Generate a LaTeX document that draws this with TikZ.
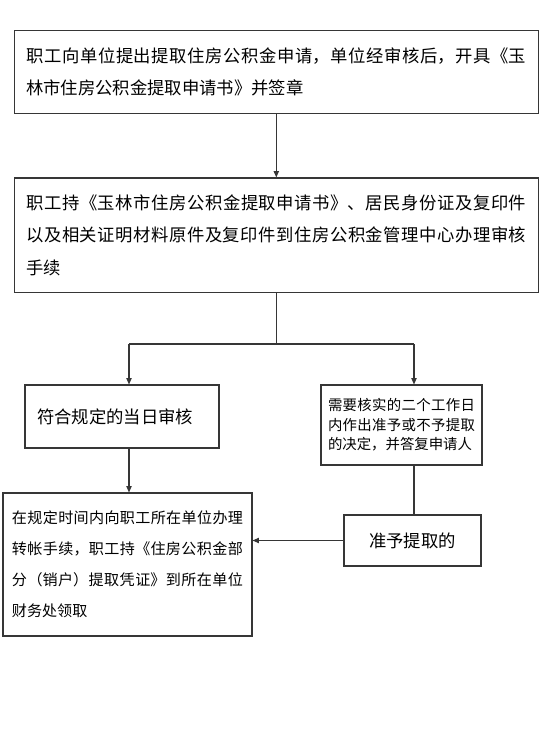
\documentclass[tikz,border=0pt]{standalone}
\usepackage{fontspec}
\setmainfont{Noto Sans CJK SC}
\usetikzlibrary{arrows.meta}
\XeTeXlinebreaklocale "zh"
\XeTeXlinebreakskip = 0pt plus 2pt
\definecolor{framegray}{HTML}{363636}
\tikzset{
  stepbox/.style = {draw=framegray, line width=0.8pt, inner ysep=0pt, align=justify},
  flowln/.style  = {framegray, line width=0.8pt},
  flowarr/.style = {-{Triangle[length=4.8pt,width=4pt]}, framegray, line width=0.8pt}
}

\begin{document}
\begin{tikzpicture}[x=0.75pt,y=-0.75pt]
  \useasboundingbox (0,0) rectangle (550,731);
  % top row: application and submission
  \node[stepbox,text width=375pt,inner xsep=8.85pt,minimum height=61.9pt,
        font=\fontsize{13}{23.5}\selectfont] (apply) at (276.3,71.8)
    {职工向单位提出提取住房公积金申请，单位经审核后，开具《玉\linebreak 林市住房公积金提取申请书》并签章};
  \node[stepbox,text width=375pt,inner xsep=8.85pt,minimum height=86pt,
        font=\fontsize{13}{24.4}\selectfont] (submit) at (276.3,235.3)
    {职工持《玉林市住房公积金提取申请书》、居民身份证及复印件\linebreak 以及相关证明材料原件及复印件到住房公积金管理中心办理审核\linebreak 手续};
  % two branches
  \node[stepbox,align=left,text width=127.5pt,inner xsep=9pt,minimum height=47.25pt,
        font=\fontsize{13}{16}\selectfont] (sameday) at (122,416.5)
    {符合规定的当日审核};
  \node[stepbox,text width=110.25pt,inner xsep=5.25pt,minimum height=60pt,
        font=\fontsize{10.8}{14.6}\selectfont] (verify) at (401.5,425)
    {需要核实的二个工作日\linebreak 内作出准予或不予提取\linebreak 的决定，并答复申请人\par\vspace{8pt}};
  \node[stepbox,text width=173.25pt,inner xsep=6.75pt,minimum height=107.25pt,
        font=\fontsize{11.3}{23.3}\selectfont] (transfer) at (127.5,564.5)
    {在规定时间内向职工所在单位办理\linebreak 转帐手续，职工持《住房公积金部\linebreak 分（销户）提取凭证》到所在单位\linebreak 财务处领取};
  \node[stepbox,align=center,minimum width=102.75pt,minimum height=38.25pt,
        font=\fontsize{13}{16}\selectfont] (approve) at (412.5,540.5)
    {准予提取的};
  % connectors
  \coordinate (fork)  at (276.3,344);
  \coordinate (forkl) at (129,344);
  \coordinate (forkr) at (414,344);
  \draw[flowarr] (apply) -- (submit);
  \draw[flowln] (submit) -- (fork);
  \draw[flowln] (forkl) -- (forkr);
  \draw[flowarr] (forkl) -- (forkl |- sameday.north);
  \draw[flowarr] (forkr) -- (forkr |- verify.north);
  \draw[flowarr] (forkl |- sameday.south) -- (forkl |- transfer.north);
  \draw[flowln] (forkr |- verify.south) -- (forkr |- approve.north);
  \draw[flowarr] (approve.west) -- (approve.west -| transfer.east);
\end{tikzpicture}
\end{document}
